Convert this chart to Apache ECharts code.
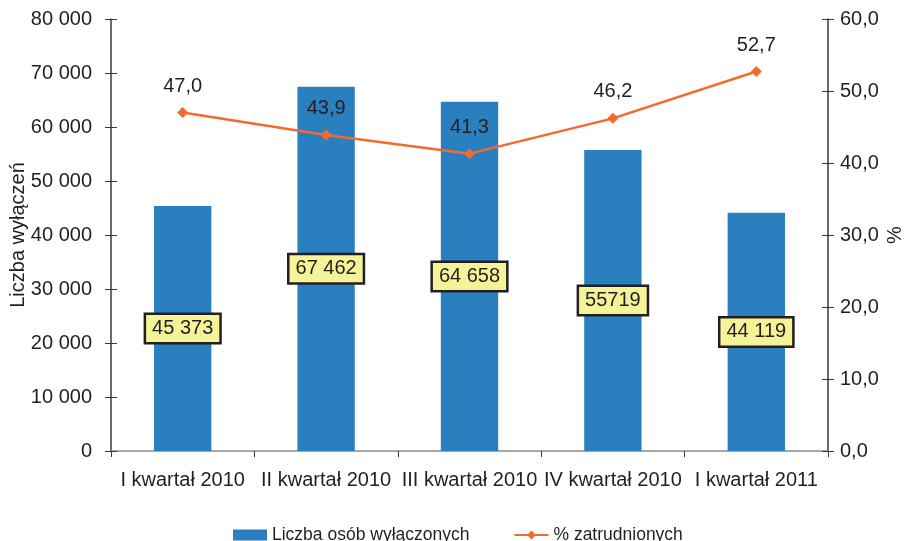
<!DOCTYPE html>
<html>
<head>
<meta charset="utf-8">
<script src="https://cdn.jsdelivr.net/npm/echarts@6/dist/echarts.min.js"></script>
<style>
  html, body { margin: 0; padding: 0; background: #fff; }
  #chart { width: 904px; height: 541px; }
</style>
</head>
<body>
<div id="chart"></div>
<script>
const quarters = ["I kwartał 2010", "II kwartał 2010", "III kwartał 2010", "IV kwartał 2010", "I kwartał 2011"];
const excluded = [45373, 67462, 64658, 55719, 44119];
const excludedLabels = ["45 373", "67 462", "64 658", "55719", "44 119"];
const employedPct = [47.0, 43.9, 41.3, 46.2, 52.7];

const font = "Liberation Sans";
const textColor = "#231f20";
const axisColor = "#3a3a3a";

const spaced = (v) => String(v).replace(/\B(?=(\d{3})+(?!\d))/g, " ");
const comma = (v) => v.toFixed(1).replace(".", ",");

const chart = echarts.init(document.getElementById("chart"), null, { renderer: "canvas" });

chart.setOption({
  animation: false,
  textStyle: { fontFamily: font },
  grid: { left: 111, right: 76, top: 19, bottom: 90, containLabel: false, outerBoundsMode: "none" },
  legend: {
    bottom: -8,
    left: 228,
    itemGap: 44,
    itemWidth: 34,
    itemHeight: 11,
    textStyle: { fontFamily: font, fontSize: 17.5, color: textColor },
    data: [
      { name: "Liczba osób wyłączonych", icon: "rect" },
      { name: "% zatrudnionych" },
    ],
  },
  xAxis: {
    type: "category",
    data: quarters,
    axisLine: { lineStyle: { color: "#8a8a8a", width: 1.5 } },
    axisTick: { show: true, length: 6, lineStyle: { color: axisColor } },
    axisLabel: { color: textColor, fontSize: 20, margin: 19, interval: 0 },
  },
  yAxis: [
    {
      type: "value",
      min: 0,
      max: 80000,
      interval: 10000,
      name: "Liczba wyłączeń",
      nameLocation: "middle",
      nameGap: 83,
      nameRotate: 90,
      nameMoveOverlap: false,
      nameTextStyle: { fontSize: 20, color: textColor },
      axisLine: { show: true, lineStyle: { color: axisColor, width: 1.5 } },
      axisTick: { show: true, length: 6, lineStyle: { color: axisColor } },
      axisLabel: { color: textColor, fontSize: 20, margin: 19, formatter: spaced },
      splitLine: { show: false },
    },
    {
      type: "value",
      min: 0,
      max: 60,
      interval: 10,
      position: "right",
      name: "%",
      nameLocation: "middle",
      nameGap: 57,
      nameRotate: 90,
      nameMoveOverlap: false,
      nameTextStyle: { fontSize: 20, color: textColor },
      axisLine: { show: true, lineStyle: { color: axisColor, width: 1.5 } },
      axisTick: { show: true, length: 6, lineStyle: { color: axisColor } },
      axisLabel: { color: textColor, fontSize: 20, margin: 12, formatter: comma },
      splitLine: { show: false },
    },
    {
      // inner half of the crossing ticks on the left axis
      type: "value",
      min: 0,
      max: 80000,
      interval: 10000,
      position: "left",
      axisLine: { show: false },
      axisTick: { show: true, inside: true, length: 6, lineStyle: { color: axisColor } },
      axisLabel: { show: false },
      splitLine: { show: false },
    },
    {
      // inner half of the crossing ticks on the right axis
      type: "value",
      min: 0,
      max: 60,
      interval: 10,
      position: "right",
      axisLine: { show: false },
      axisTick: { show: true, inside: true, length: 6, lineStyle: { color: axisColor } },
      axisLabel: { show: false },
      splitLine: { show: false },
    },
  ],
  series: [
    {
      name: "Liczba osób wyłączonych",
      type: "bar",
      yAxisIndex: 0,
      barWidth: "40%",
      itemStyle: { color: "#2a7fbf" },
      data: excluded,
      label: {
        show: true,
        position: "inside",
        formatter: (p) => excludedLabels[p.dataIndex],
        fontSize: 20,
        color: textColor,
        backgroundColor: "#f4f398",
        borderColor: "#231f20",
        borderWidth: 2.5,
        padding: [4, 6, 3, 6],
      },
      z: 2,
    },
    {
      name: "% zatrudnionych",
      type: "line",
      yAxisIndex: 1,
      data: employedPct,
      symbol: "diamond",
      symbolSize: 11,
      lineStyle: { color: "#f26a2d", width: 2.5 },
      itemStyle: { color: "#f26a2d" },
      label: {
        show: true,
        position: "top",
        distance: 11,
        fontSize: 20,
        color: textColor,
        formatter: (p) => comma(p.value),
      },
      z: 3,
    },
  ],
});
</script>
</body>
</html>
